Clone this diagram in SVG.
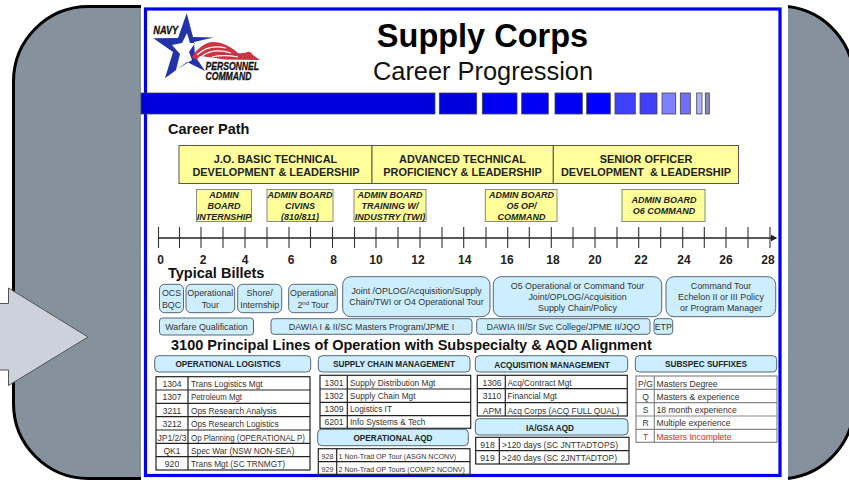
<svg xmlns="http://www.w3.org/2000/svg" width="849" height="480" viewBox="0 0 849 480">
<style>
text{font-family:"Liberation Sans",Arial,sans-serif;fill:#222}
.m{text-anchor:middle}
.panel{fill:#85919d;stroke:#000;stroke-width:3}
.bar{stroke:#444;stroke-width:.8}
.h{font-weight:bold;font-size:14.5px;fill:#111}
.y{fill:#ffff99;stroke:#555;stroke-width:1}
.yt{font-weight:bold;font-size:10.9px;text-anchor:middle}
.a{fill:#ffff99;stroke:#888;stroke-width:1}
.at{font-weight:bold;font-style:italic;font-size:9px;text-anchor:middle}
.n{font-weight:bold;font-size:12px;text-anchor:middle}
.b{fill:#cceeff;stroke:#556677;stroke-width:1}
.bt{font-size:8.9px;text-anchor:middle;fill:#333}
.ch{font-weight:bold;font-size:8.2px;text-anchor:middle}
.t{fill:#fff;stroke:#222;stroke-width:1.2}
.g{fill:#fff;stroke:#888;stroke-width:1.2}
.c{font-size:8.6px;fill:#333;text-anchor:middle}
.d{font-size:8.3px;fill:#333}
.s{font-size:7.1px;fill:#333}
.u{font-size:8.6px;fill:#333}
.r{fill:#ff2020}
.tick{stroke:#333;stroke-width:1.1}
.logot{font-weight:bold;font-style:italic;font-size:10.5px;fill:#111;stroke:#111;stroke-width:.3}
.t1{font-weight:bold;font-size:32.5px;text-anchor:middle;fill:#000}
.t2{font-size:25.4px;text-anchor:middle;fill:#111}
</style>
<defs>
<marker id="ah" markerWidth="6" markerHeight="6" refX="4" refY="3" orient="auto"><path d="M0 .5L5 3L0 5.500z" fill="#222"/></marker>
</defs>
<rect width="849" height="480" fill="#fff"/>
<g id="frame-left">
<path class="panel" d="M141 6.500H88.500A75 75 0 0 0 13.500 81.500V403.500A75 75 0 0 0 88.500 478.500H141"/>
</g>
<g id="frame-right">
<path d="M788 6.500A75 75 0 0 1 854 81.500V403.500A75 75 0 0 1 788 478.500Z" fill="#85919d"/>
<path d="M788 6.500A75 75 0 0 1 854 81.500V403.500A75 75 0 0 1 788 478.500" fill="none" stroke="#000" stroke-width="3"/>
</g>
<g id="arrow"><path d="M-2 303.500H8.500V288L88 337L8.500 385.500V370H-2Z" fill="#ccd1dc" stroke="#555" stroke-width="1"/></g>
<g id="slide">
<rect x="145.500" y="9" width="634.500" height="466.500" fill="#fff" stroke="#0000ee" stroke-width="3.200"/>
</g>
<g id="logo">
<path fill-rule="evenodd" fill="#2233aa" d="M186.700 13.300L193 37L213.500 37.500L194 42L195 56L205 71L187 62L165 78.300L173 52L153.300 38.300L178 38ZM187 33L182 43L172 45L180 54L176 70L192 60L189 52L195 43L190 43Z"/>
<path fill="#cc3344" d="M191.700 57C197 49 205 42 213 42C222 42 230 46 238 53C243 54 246 52 250 51.700L253 55L260 60L225 59.500L215 58L200 56L196.700 60Z"/>
<path fill="none" stroke="#fff" stroke-width="1.200" d="M197 55C204 48 214 45 226 48M202 56C209 51 218 49 231 53M212 57C220 55 228 55 238 57"/>
<text class="logot" x="153.300" y="33.500" textLength="25" lengthAdjust="spacingAndGlyphs">NAVY</text>
<text class="logot" x="205.500" y="70" textLength="53.500" lengthAdjust="spacingAndGlyphs">PERSONNEL</text>
<text class="logot" x="205.500" y="80" textLength="46" lengthAdjust="spacingAndGlyphs">COMMAND</text>
</g>
<g id="title">
<text class="t1" x="482.500" y="47">Supply Corps</text>
<text class="t2" x="483" y="80">Career Progression</text>
</g>
<g id="color-bar">
<rect class="bar" x="141" y="93" width="294" height="21" fill="#0000dd"/>
<rect class="bar" x="439.300" y="93" width="37.400" height="21" fill="#0000dd"/>
<rect class="bar" x="482.300" y="93" width="34.700" height="21" fill="#0000f5"/>
<rect class="bar" x="521.700" y="93" width="26.600" height="21" fill="#0000f5"/>
<rect class="bar" x="555" y="93" width="27.300" height="21" fill="#0000f5"/>
<rect class="bar" x="586.700" y="93" width="23.600" height="21" fill="#0000ff"/>
<rect class="bar" x="615" y="93" width="20.300" height="21" fill="#4040ff"/>
<rect class="bar" x="640" y="93" width="17" height="21" fill="#4040ff"/>
<rect class="bar" x="662" y="93" width="13.700" height="21" fill="#8080ff"/>
<rect class="bar" x="680.300" y="93" width="10" height="21" fill="#7070ff"/>
<rect class="bar" x="696.700" y="93" width="5.300" height="21" fill="#b0b0ff"/>
<rect class="bar" x="705.300" y="93" width="4" height="21" fill="#8888bb"/>
</g>
<text class="h" x="168" y="134">Career Path</text>
<g id="phase-jo"><rect class="y" x="179" y="145.500" width="193" height="38"/><text class="yt" x="275.500" y="162.500">J.O. BASIC TECHNICAL</text><text class="yt" x="276" y="175.700">DEVELOPMENT &amp; LEADERSHIP</text></g>
<g id="phase-adv"><rect class="y" x="372" y="145.500" width="181.300" height="38"/><text class="yt" x="462.500" y="162.500">ADVANCED TECHNICAL</text><text class="yt" x="462.500" y="175.700">PROFICIENCY &amp; LEADERSHIP</text></g>
<g id="phase-sr"><rect class="y" x="553.300" y="145.500" width="185.200" height="38"/><text class="yt" x="646" y="162.500">SENIOR OFFICER</text><text class="yt" x="646" y="175.700" xml:space="preserve">DEVELOPMENT  &amp; LEADERSHIP</text></g>
<g id="admin-1"><rect class="a" x="196.500" y="189.500" width="55" height="32"/><text class="at" x="224" y="198">ADMIN</text><text class="at" x="224" y="209">BOARD</text><text class="at" x="224" y="220">INTERNSHIP</text></g>
<g id="admin-2"><rect class="a" x="267" y="189.500" width="66" height="32"/><text class="at" x="300" y="198">ADMIN BOARD</text><text class="at" x="300" y="209">CIVINS</text><text class="at" x="300" y="220">(810/811)</text></g>
<g id="admin-3"><rect class="a" x="354" y="189.500" width="72" height="32"/><text class="at" x="390" y="198">ADMIN BOARD</text><text class="at" x="390" y="209">TRAINING W/</text><text class="at" x="390" y="220">INDUSTRY (TWI)</text></g>
<g id="admin-4"><rect class="a" x="485.300" y="189.500" width="71.700" height="32"/><text class="at" x="521.500" y="198">ADMIN BOARD</text><text class="at" x="521.500" y="209">O5 OP/</text><text class="at" x="521.500" y="220">COMMAND</text></g>
<g id="admin-5"><rect class="a" x="622" y="189.500" width="83" height="32"/><text class="at" x="664" y="203">ADMIN BOARD</text><text class="at" x="664" y="214">O6 COMMAND</text></g>
<g id="connectors">
<line x1="158" y1="238" x2="776" y2="238" stroke="#222" stroke-width="1.300" marker-end="url(#ah)"/>
<path class="tick" fill="none" d="M158.500 227v21M179.500 227v21M201 227v21M223 227v21M245 227v21M267 227v21M289 227v21M310.500 227v21M332.500 227v21M354.500 227v21M376 227v21M398 227v21M420 227v21M442 227v21M463.700 227v21M486 227v21M507.700 227v21M529.300 227v21M551.300 227v21M573 227v21M595 227v21M617 227v21M638.700 227v21M660.700 227v21M682.700 227v21M704.300 227v21M726 227v21M748 227v21M770 227v21"/>
</g>
<g id="axis-labels">
<text class="n" x="160.500" y="264">0</text><text class="n" x="203" y="264">2</text><text class="n" x="245" y="264">4</text><text class="n" x="291" y="264">6</text><text class="n" x="333.500" y="264">8</text><text class="n" x="376" y="264">10</text><text class="n" x="418" y="264">12</text><text class="n" x="464.700" y="264">14</text><text class="n" x="507" y="264">16</text><text class="n" x="553" y="264">18</text><text class="n" x="595" y="264">20</text><text class="n" x="641" y="264">22</text><text class="n" x="684" y="264">24</text><text class="n" x="726" y="264">26</text><text class="n" x="768" y="264">28</text>
</g>
<text class="h" x="168" y="278">Typical Billets</text>
<g id="billet-ocs"><rect class="b" x="159.500" y="284.300" width="24" height="28.400" rx="5"/><text class="bt" x="171.500" y="296">OCS</text><text class="bt" x="171.500" y="307.500">BQC</text></g>
<g id="billet-op"><rect class="b" x="186" y="284.300" width="48.700" height="28.400" rx="5"/><text class="bt" x="210.300" y="296">Operational</text><text class="bt" x="210.300" y="307.500">Tour</text></g>
<g id="billet-shore"><rect class="b" x="237.700" y="284.300" width="44" height="28.400" rx="5"/><text class="bt" x="259.700" y="296">Shore/</text><text class="bt" x="259.700" y="307.500">Internship</text></g>
<g id="billet-op2"><rect class="b" x="288.700" y="284.300" width="48.600" height="28.400" rx="5"/><text class="bt" x="313" y="296">Operational</text><text class="bt" x="313" y="307.500">2<tspan font-size="6" dy="-3">nd</tspan><tspan dy="3"> Tour</tspan></text></g>
<g id="billet-joint"><rect class="b" x="342.700" y="276.700" width="147.300" height="40" rx="8"/><text class="bt" x="416.500" y="294">Joint /OPLOG/Acquisition/Supply</text><text class="bt" x="416.500" y="305">Chain/TWI or O4 Operational Tour</text></g>
<g id="billet-o5"><rect class="b" x="493.300" y="276.700" width="168.400" height="40" rx="8"/><text class="bt" x="577.500" y="289">O5 Operational or Command Tour</text><text class="bt" x="577.500" y="300">Joint/OPLOG/Acquisition</text><text class="bt" x="577.500" y="311">Supply Chain/Policy</text></g>
<g id="billet-cmd"><rect class="b" x="666" y="276.700" width="109.700" height="40" rx="8"/><text class="bt" x="721" y="289">Command Tour</text><text class="bt" x="721" y="300">Echelon II or III Policy</text><text class="bt" x="721" y="311">or Program Manager</text></g>
<g id="qual-warfare"><rect class="b" x="159.500" y="318" width="94" height="17" rx="3"/><text class="bt" x="206.500" y="330">Warfare Qualification</text></g>
<g id="qual-dawia1"><rect class="b" x="271" y="318.700" width="201" height="15.600" rx="3"/><text class="bt" x="371.500" y="330">DAWIA I &amp; II/SC Masters Program/JPME I</text></g>
<g id="qual-dawia3"><rect class="b" x="476.700" y="318.700" width="173.300" height="15.600" rx="3"/><text class="bt" x="563.300" y="330">DAWIA III/Sr Svc College/JPME II/JQO</text></g>
<g id="qual-etp"><rect class="b" x="654" y="318.700" width="18.700" height="15.600" rx="3"/><text class="bt" x="663.300" y="330">ETP</text></g>
<text class="h" x="171" y="350">3100 Principal Lines of Operation with Subspecialty &amp; AQD Alignment</text>
<g id="head-oplog"><rect class="b" x="154.700" y="355.700" width="156" height="16.300" rx="4"/><text class="ch" x="228" y="367">OPERATIONAL LOGISTICS</text></g>
<g id="head-scm"><rect class="b" x="318.300" y="355.700" width="151.700" height="16.300" rx="4"/><text class="ch" x="394" y="367">SUPPLY CHAIN MANAGEMENT</text></g>
<g id="head-acq"><rect class="b" x="475.300" y="355.700" width="152.400" height="16.300" rx="4"/><text class="ch" x="552" y="368">ACQUISITION MANAGEMENT</text></g>
<g id="head-sub"><rect class="b" x="635.300" y="355.700" width="141.400" height="16.300" rx="4"/><text class="ch" x="706" y="367">SUBSPEC SUFFIXES</text></g>
<g id="table-oplog">
<rect class="t" x="156" y="376.700" width="154" height="93.300"/><path class="t" d="M188 376.700V470M156 390H310M156 403.300H310M156 416.700H310M156 430H310M156 443.300H310M156 456.700H310"/>
<text class="c" x="172" y="387">1304</text><text class="d" x="191" y="387">Trans Logistics Mgt</text>
<text class="c" x="172" y="400">1307</text><text class="d" x="191" y="400" textLength="51" lengthAdjust="spacingAndGlyphs">Petroleum Mgt</text>
<text class="c" x="172" y="414">3211</text><text class="d" x="191" y="414">Ops Research Analysis</text>
<text class="c" x="172" y="427">3212</text><text class="d" x="191" y="427">Ops Research Logistics</text>
<text class="c" x="172" y="441" textLength="29" lengthAdjust="spacingAndGlyphs">JP1/2/3</text><text class="d" x="191" y="441" textLength="114" lengthAdjust="spacingAndGlyphs">Op Planning (OPERATIONAL P)</text>
<text class="c" x="172" y="454">QK1</text><text class="d" x="191" y="454">Spec War (NSW NON-SEA)</text>
<text class="c" x="172" y="467">920</text><text class="d" x="191" y="467">Trans Mgt (SC TRNMGT)</text>
</g>
<g id="table-scm">
<rect class="t" x="320" y="375.300" width="150.700" height="53"/><path class="t" d="M347.300 375.300V428.300M320 389H470.700M320 402.300H470.700M320 415.700H470.700"/>
<text class="c" x="334" y="386">1301</text><text class="d" x="350" y="386">Supply Distribution Mgt</text>
<text class="c" x="334" y="399">1302</text><text class="d" x="350" y="399">Supply Chain Mgt</text>
<text class="c" x="334" y="412">1309</text><text class="d" x="350" y="412">Logistics IT</text>
<text class="c" x="334" y="425">6201</text><text class="d" x="350" y="425">Info Systems &amp; Tech</text>
</g>
<g id="head-opaqd"><rect class="b" x="317.700" y="429.300" width="150.600" height="16.400" rx="4"/><text class="ch" x="393" y="441">OPERATIONAL AQD</text></g>
<g id="table-opaqd">
<rect class="t" x="318.300" y="448.700" width="151.700" height="25.600"/><path class="t" d="M336.700 448.700V474.300M318.300 461.700H470"/>
<text class="s m" x="327.500" y="458.500">928</text><text class="s" x="338.500" y="458.500">1 Non-Trad OP Tour (ASGN NCONV)</text>
<text class="s m" x="327.500" y="472">929</text><text class="s" x="338.500" y="472">2 Non-Trad OP Tours (COMP2 NCONV)</text>
</g>
<g id="table-acq">
<rect class="t" x="477.300" y="375.300" width="150" height="40.700"/><path class="t" d="M505.300 375.300V416M477.300 388.700H627.300M477.300 402.700H627.300"/>
<text class="c" x="492" y="386">1306</text><text class="d" x="507.500" y="386">Acq/Contract Mgt</text>
<text class="c" x="492" y="399">3110</text><text class="d" x="507.500" y="399">Financial Mgt</text>
<text class="c" x="492" y="414">APM</text><text class="d" x="507.500" y="414">Acq Corps (ACQ FULL QUAL)</text>
</g>
<g id="head-ia"><rect class="b" x="475.300" y="418.700" width="152.700" height="16.300" rx="4"/><text class="ch" x="550" y="430.500">IA/GSA AQD</text></g>
<g id="table-ia">
<rect class="t" x="475.700" y="437.300" width="153.300" height="26.700"/><path class="t" d="M499.300 437.300V464M475.700 450.700H629"/>
<text class="c" x="487.500" y="448">918</text><text class="d" x="502" y="448" textLength="116" lengthAdjust="spacingAndGlyphs">&gt;120 days (SC JNTTADTOPS)</text>
<text class="c" x="487.500" y="461">919</text><text class="d" x="502" y="461" textLength="115" lengthAdjust="spacingAndGlyphs">&gt;240 days (SC 2JNTTADTOP)</text>
</g>
<g id="table-sub">
<rect class="g" x="636" y="376" width="141" height="66.300"/><path class="g" d="M654.300 376V442.300M636 389.300H777M636 402.700H777M636 416H777M636 429.300H777"/>
<text class="c" x="645.500" y="387">P/G</text><text class="u" x="656.500" y="387">Masters Degree</text>
<text class="c" x="645.500" y="400">Q</text><text class="u" x="656.500" y="400">Masters &amp; experience</text>
<text class="c" x="645.500" y="413">S</text><text class="u" x="656.500" y="413">18 month experience</text>
<text class="c" x="645.500" y="426">R</text><text class="u" x="656.500" y="426">Multiple experience</text>
<text class="c" x="645.500" y="440" style="fill:#ff2020">T</text><text class="u" x="656.500" y="440" style="fill:#ff2020">Masters Incomplete</text>
</g>
</svg>
